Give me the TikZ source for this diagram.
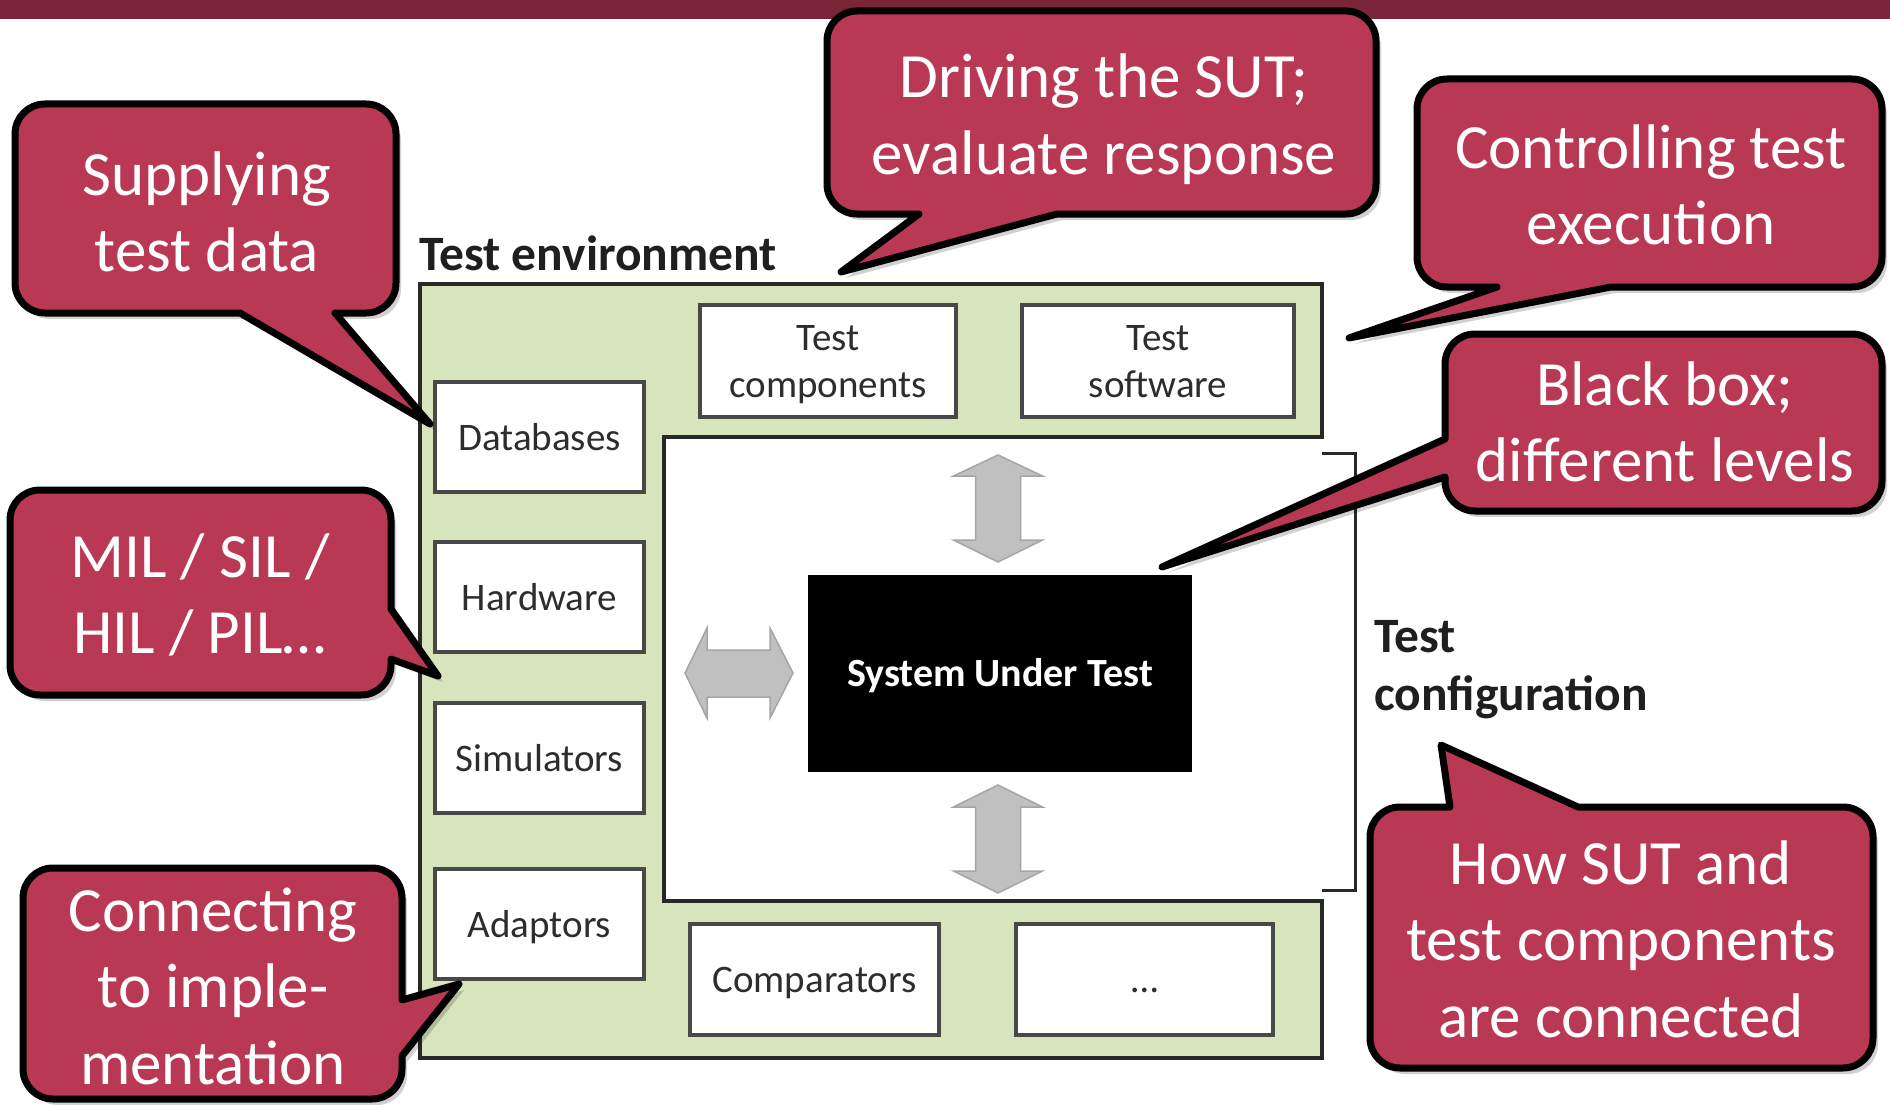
\documentclass[tikz,border=0pt]{standalone}
\usepackage{fontspec}
\setmainfont{Carlito}
\usetikzlibrary{shadows}
\definecolor{barred}{RGB}{122,38,56}
\definecolor{calred}{RGB}{185,57,84}
\definecolor{envgreen}{RGB}{216,228,188}
\definecolor{boxline}{RGB}{72,72,72}
\definecolor{labelgray}{RGB}{45,45,45}
\definecolor{arrgray}{RGB}{192,192,192}
\definecolor{arredge}{RGB}{165,165,165}
\definecolor{darkline}{RGB}{40,40,40}
\newcommand\tstrutx{\rule{0pt}{33pt}}
\newcommand\bstrutx{\rule[-8pt]{0pt}{8pt}}
% #1 style, #2 x1, #3 y1, #4 x2, #5 y2, #6 top, #7 right, #8 bottom, #9 left insertions
\newcommand\callout[9]{%
\draw[#1] (#2,#3+30) .. controls (#2,#3+13.4) and (#2+13.4,#3) .. (#2+30,#3) #6
 -- (#4-30,#3) .. controls (#4-13.4,#3) and (#4,#3+13.4) .. (#4,#3+30) #7
 -- (#4,#5-30) .. controls (#4,#5-13.4) and (#4-13.4,#5) .. (#4-30,#5) #8
 -- (#2+30,#5) .. controls (#2+13.4,#5) and (#2,#5-13.4) .. (#2,#5-30) #9
 -- cycle;}
\begin{document}
\begin{tikzpicture}[x=1pt,y=-1pt,
  callout/.style={fill=calred, draw=black, line width=7pt, line join=round,
    drop shadow={shadow xshift=5pt, shadow yshift=-6pt, opacity=0.18, fill=black}},
  calltext/.style={text=white, font=\fontsize{63}{76.5}\selectfont, align=center, inner sep=0pt},
  compbox/.style={draw=boxline, fill=white, line width=3.5pt, text=labelgray,
    font=\fontsize{39}{47}\selectfont, inner sep=0pt},
  onelabel/.style={text height=31pt, text depth=5pt},
  twolabel/.style={align=center},
  blockarrow/.style={fill=arrgray, draw=arredge, line width=1.5pt, line join=miter},
  headlabel/.style={font=\fontsize{49.5}{58}\selectfont\bfseries, text=black!88, inner sep=0pt}
]
\useasboundingbox (0,0) rectangle (1890,1105);
\fill[white] (0,0) rectangle (1890,1105);
\fill[barred] (0,0) rectangle (1890,19);

% test environment (green C-shape)
\draw[fill=envgreen, draw=darkline, line width=4pt, line join=miter]
  (420,284) -- (1322,284) -- (1322,437) -- (664,437) -- (664,901)
  -- (1322,901) -- (1322,1058) -- (420,1058) -- cycle;

\node[headlabel, anchor=base west] (tenv) at (419,270) {Test environment};

% component boxes
\node[compbox, onelabel, minimum width=209pt, minimum height=110pt] (db)  at (539.5,437) {Databases};
\node[compbox, onelabel, minimum width=209pt, minimum height=110pt] (hw)  at (539.5,597) {Hardware};
\node[compbox, onelabel, minimum width=209pt, minimum height=110pt] (sim) at (539.5,758) {Simulators};
\node[compbox, onelabel, minimum width=209pt, minimum height=110pt] (adp) at (539.5,924) {Adaptors};
\node[compbox, twolabel, minimum width=256pt, minimum height=112pt] (tc)  at (828,361) {\tstrutx Test\\components\bstrutx};
\node[compbox, twolabel, minimum width=272pt, minimum height=112pt] (ts)  at (1158,361) {\tstrutx Test\\software\bstrutx};
\node[compbox, onelabel, minimum width=249pt, minimum height=111pt] (cmp) at (814.5,979.5) {Comparators};
\node[compbox, onelabel, minimum width=257pt, minimum height=111pt] (etc) at (1144.5,979.5) {…};

% system under test
\node[fill=black, minimum width=384pt, minimum height=197pt, inner sep=0pt,
  text height=33pt, text depth=8pt,
  text=white, font=\fontsize{40}{48}\selectfont\bfseries] (sut) at (1000,673.5) {System Under Test};

% block arrows
\draw[blockarrow] (998,455) -- (1042.5,476) -- (1020.5,476) -- (1020.5,540) -- (1042.5,540)
  -- (998,562) -- (953.5,540) -- (975.5,540) -- (975.5,476) -- (953.5,476) -- cycle;
\draw[blockarrow] (998,785) -- (1042.5,807) -- (1020.5,807) -- (1020.5,871) -- (1042.5,871)
  -- (998,893) -- (953.5,871) -- (975.5,871) -- (975.5,807) -- (953.5,807) -- cycle;
\draw[blockarrow] (685,673) -- (707,628) -- (707,650) -- (770,650) -- (770,628)
  -- (793,673) -- (770,718) -- (770,697) -- (707,697) -- (707,718) -- cycle;

% test configuration bracket
\draw[darkline, line width=3pt] (1322,453) -- (1355,453) -- (1355,890) -- (1322,890);
\node[headlabel, align=left, anchor=west] (tconf) at (1374,670) {Test\\configuration};

% callouts
\callout{callout}{15}{104}{396}{313}{}{}{-- (335,313) -- (430,424) -- (240,313)}{}
\callout{callout}{827}{11}{1376}{214}{}{}{-- (1057,214) -- (841,272) -- (919,214)}{}
\callout{callout}{1417}{79}{1882}{287}{}{}{-- (1611,287) -- (1349,338) -- (1497,287)}{}
\callout{callout}{1445}{334}{1882}{511}{}{}{}{-- (1445,477) -- (1162,567) -- (1445,439)}
\callout{callout}{10}{490}{391}{695}{}{-- (391,609) -- (438,676) -- (391,659)}{}{}
\callout{callout}{23}{868}{402}{1099}{}{-- (402,1000) -- (459,984) -- (402,1056)}{}{}
\callout{callout}{1370}{807}{1873}{1068}{-- (1450,807) -- (1441,745) -- (1578,807)}{}{}{}

\node[calltext] (c1) at (207,212) {Supplying\\test data};
\node[calltext] (c2) at (1104,119) {Driving the SUT;\\evaluate response};
\node[calltext] (c3) at (1651,185) {Controlling test\\execution};
\node[calltext] (c4) at (1665,422) {Black box;\\different levels};
\node[calltext] (c5) at (200,595) {MIL / SIL /\\HIL / PIL…};
\node[calltext] (c6) at (213,986) {Connecting\\to imple-\\mentation};
\node[calltext] (c7) at (1621,939) {How SUT and\\test components\\are connected};
\end{tikzpicture}
\end{document}
